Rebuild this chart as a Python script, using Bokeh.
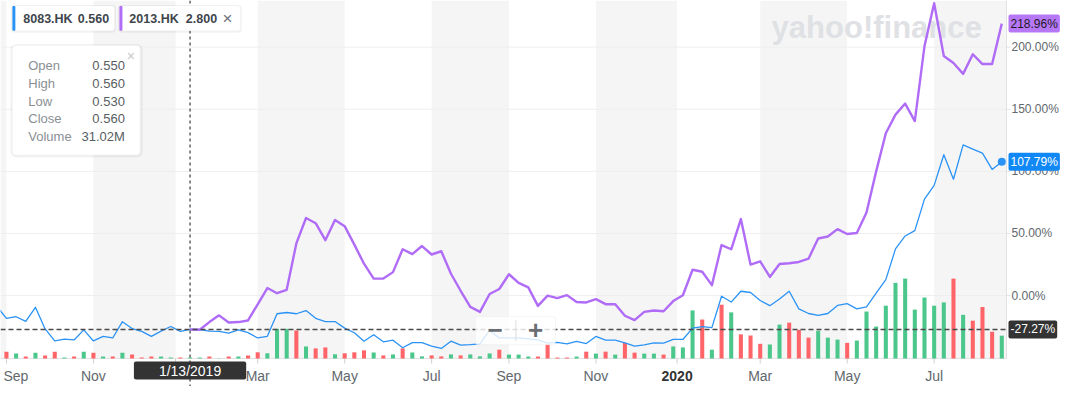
from bokeh.plotting import figure
from bokeh.models import Range1d, BoxAnnotation, Label, Span
from bokeh.core.properties import value
from bokeh.embed import file_html
from bokeh.resources import INLINE

# ---------------- data ----------------
# weekly points, index 0 = first week of Sep 2018
week_idx = list(range(-1, 104))
blue_pct = [  # 8083.HK, % change
    -8.7, -18.3, -17.0, -20.7, -9.4, -26.8, -36.5, -35.1, -35.7, -27.6,
    -36.5, -32.8, -34.1, -21.0, -26.5, -28.8, -32.8, -28.6, -24.9, -28.8,
    -27.27, -27.3, -28.6, -28.8, -30.2, -27.6, -29.8, -34.1, -32.8, -14.6,
    -13.6, -14.6, -12.0, -18.3, -20.9, -20.9, -26.2, -29.9, -36.7, -31.5,
    -37.2, -35.9, -42.0, -37.8, -37.8, -40.6, -42.5, -36.7, -39.8, -39.4,
    -38.8, -27.8, -34.1, -34.1, -34.1, -34.9, -35.7, -38.3, -37.6, -38.8,
    -36.9, -38.6, -32.9, -35.8, -35.8, -38.0, -40.6, -39.6, -38.0, -38.2,
    -35.3, -35.3, -26.2, -25.0, -25.8, -0.5, -5.2, 3.5, 2.5, -3.9,
    -8.1, -2.8, 3.5, -10.7, -14.4, -16.0, -14.4, -7.9, -6.5, -10.7,
    -9.1, 1.9, 12.9, 37.6, 48.0, 52.3, 77.7, 88.7, 113.4, 93.7,
    121.3, 117.9, 114.7, 101.6, 107.79,
]
purple_idx = list(range(19, 104))
purple_pct = [  # 2013.HK, % change
    -27.27, -27.5, -21.3, -15.9, -21.7, -21.3, -20.0, -7.0, 6.1, 1.9,
    4.7, 42.0, 62.5, 58.3, 44.6, 60.9, 55.9, 41.0, 25.7, 13.7,
    13.7, 18.9, 37.3, 33.4, 39.9, 33.1, 35.7, 17.6, 3.9, -9.1,
    -13.1, 1.3, 5.3, 17.2, 10.2, 6.6, -8.3, 0.0, -2.0, 0.4,
    -5.2, -5.5, -2.8, -6.9, -6.9, -16.2, -19.7, -13.1, -12.0, -12.6,
    -4.4, 0.3, 20.8, 19.2, 8.4, 40.7, 37.3, 61.6, 25.0, 27.6,
    15.0, 25.5, 26.0, 27.1, 29.7, 46.0, 47.6, 53.5, 49.6, 50.4,
    66.9, 100.0, 130.7, 145.7, 154.6, 140.5, 200.8, 235.4, 192.9, 187.2,
    178.5, 194.3, 186.4, 186.4, 218.96,
]
vol_idx = list(range(0, 104))
volume_m = [  # 8083.HK weekly volume, millions
    210, 150, 60, 180, 90, 210, 30, 60, 210, 180,
    60, 60, 180, 120, 30, 60, 60, 30, 30, 31.02,
    30, 60, 10, 60, 60, 90, 190, 160, 910, 910,
    860, 370, 310, 340, 130, 160, 190, 250, 185, 95,
    125, 310, 185, 65, 95, 65, 125, 95, 125, 65,
    155, 270, 120, 120, 60, 60, 430, 30, 30, 60,
    210, 150, 210, 120, 480, 180, 150, 150, 120, 370,
    340, 1475, 1195, 270, 1650, 1415, 740, 705, 450, 430,
    1040, 1100, 880, 640, 850, 640, 580, 480, 550, 1440,
    980, 1620, 2320, 2450, 1500, 1870, 1620, 1720, 2450, 1340,
    1160, 1580, 820, 700,
]
volume_dir = list(
    "rgrgrrgrgr" "grgrrrggrg" "grgrgrrggg" "rgrrgrrrgr"
    "grggrrgrgg" "grgggrrrrg" "rgrgrrggrg" "ggrgrgrrrg"
    "grrrgggrgg" "ggggggggrg" "rrrg"
)
tick_pos = [0, 9, 17.5, 26, 35, 44, 52, 61, 69.4, 78, 87, 96]
tick_labels = ["Sep", "Nov", "2019", "Mar", "May", "Jul", "Sep", "Nov", "2020", "Mar", "May", "Jul"]
pct_ticks = [0, 50, 100, 150, 200]
pct_labels = ["0.00%", "50.00%", "100.00%", "150.00%", "200.00%"]
hover_week = 19
hover_date = "1/13/2019"
ohlc_names = ["Open", "High", "Low", "Close", "Volume"]
ohlc_values = ["0.550", "0.560", "0.530", "0.560", "31.02M"]
symbols = ["8083.HK", "2013.HK"]
last_prices = ["0.560", "2.800"]

# ---------------- styling / geometry ----------------
FONT = "Liberation Sans"
BLUE = "#2b93f5"
PURPLE = "#b06cf6"
GREEN = "#4cc78c"
RED = "#ff6469"
AXIS_TXT = "#62686d"
BAND = "#f5f5f5"
LINE_GREY = "#e2e2e2"

W, H = 1064, 386
SX = 1006 / 1015          # slight compression so that the right labels fit
SY = 358 / 366            # and the month labels fit below


def X(rpx):   # reference pixel -> week index
    return (rpx - 6) / 9.75


def Y(rpy):   # reference pixel -> percent
    return (301.7 - rpy) / 1.27


def XF(fpx):  # figure pixel -> week index
    return X(fpx / SX)


def YF(fpy):  # figure pixel -> percent
    return Y(fpy / SY)


PXU = 9.75 * SX   # pixels per week
PYU = 1.27 * SY   # pixels per percent
X_LO, X_HI = XF(0), XF(W)
Y_HI, Y_LO = YF(0), YF(H)
X_PR = X(1015)    # right edge of the plotting area
Y_PB = Y(366)     # bottom of the plotting area
PB_F = 366 * SY
VPP = 30 / SY     # volume (M) per pixel

p = figure(width=W, height=H, output_backend="svg", toolbar_location=None,
           x_range=Range1d(X_LO, X_HI), y_range=Range1d(Y_LO, Y_HI),
           min_border=0, x_axis_type=None, y_axis_type=None)
p.outline_line_color = None
p.background_fill_color = "white"
p.border_fill_color = "white"
p.xgrid.visible = False
p.ygrid.visible = False
p.extra_y_ranges = {"vol": Range1d(-(H - PB_F) * VPP, PB_F * VPP)}

# alternating month bands (the shaded ones)
edges = [X_LO] + tick_pos + [X_PR]
for k in range(0, len(edges) - 1, 2):
    p.add_layout(BoxAnnotation(left=edges[k], right=edges[k + 1], bottom=Y_PB,
                               fill_color=BAND, fill_alpha=1.0, line_color=None,
                               level="underlay"))

# watermark
p.add_layout(Label(x=X(778), y=Y(28), text="yahoo!finance", text_font=FONT,
                   text_font_style="bold", text_font_size="31px", text_color="#dfe1e5",
                   text_baseline="alphabetic", level="underlay"))

# grid lines and axis lines / ticks
p.segment(x0=[X_LO] * len(pct_ticks), y0=pct_ticks, x1=[X_PR] * len(pct_ticks), y1=pct_ticks,
          line_color="#eeeeee", line_width=1)
p.segment(x0=[X_PR], y0=[Y_PB], x1=[X_PR], y1=[Y_HI], line_color=LINE_GREY, line_width=1)
p.segment(x0=[X_LO], y0=[Y_PB], x1=[X_PR], y1=[Y_PB], line_color=LINE_GREY, line_width=1)
p.segment(x0=[X_PR] * len(pct_ticks), y0=pct_ticks,
          x1=[X_PR + 4 / PXU] * len(pct_ticks), y1=pct_ticks, line_color=LINE_GREY, line_width=1)
p.segment(x0=tick_pos, y0=[Y_PB] * len(tick_pos), x1=tick_pos,
          y1=[Y_PB - 5 / PYU] * len(tick_pos), line_color="#d0d0d0", line_width=1)

# right-hand percent labels
p.text(x=[XF(1011)] * len(pct_ticks), y=pct_ticks, text=pct_labels,
       text_font=value(FONT), text_font_size="12px", text_color=AXIS_TXT,
       text_align="left", text_baseline="middle")

# month labels
base_y = YF(375)
reg = [(pos, lab) for k, (pos, lab) in enumerate(zip(tick_pos, tick_labels))
       if k > 0 and not lab.isdigit()]
p.text(x=[a for a, _ in reg], y=[base_y] * len(reg), text=[b for _, b in reg],
       text_font=value(FONT), text_font_size="14px", text_color=AXIS_TXT,
       text_align="center", text_baseline="alphabetic")
p.text(x=[XF(3)], y=[base_y], text=[tick_labels[0]], text_font=value(FONT),
       text_font_size="14px", text_color=AXIS_TXT, text_align="left",
       text_baseline="alphabetic")
yr = [(pos, lab) for pos, lab in zip(tick_pos, tick_labels) if lab == "2020"]
p.text(x=[a for a, _ in yr], y=[base_y] * len(yr), text=[b for _, b in yr],
       text_font=value(FONT), text_font_size="14px", text_font_style="bold",
       text_color="#333333", text_align="center", text_baseline="alphabetic")

# volume bars
p.vbar(x=vol_idx, top=volume_m, bottom=0, width=0.42, y_range_name="vol",
       color=[GREEN if d == "g" else RED for d in volume_dir], line_color=None)

# lines
p.line(week_idx, blue_pct, color=BLUE, line_width=1.3, line_join="round")
p.line(purple_idx, purple_pct, color=PURPLE, line_width=2.4, line_join="round")
p.scatter([week_idx[-1]], [blue_pct[-1]], size=8, color=BLUE, line_color=None)

# crosshair
hover_val = blue_pct[week_idx.index(hover_week)]
p.segment(x0=[X_LO], y0=[hover_val], x1=[X_PR], y1=[hover_val], line_color="#4a4a4a",
          line_dash="5 3", line_width=1.6)
p.add_layout(Span(location=hover_week, dimension="height", line_color="#3a3a3a",
                  line_dash="3 3", line_width=1.2))

# zoom control
p.add_layout(BoxAnnotation(left=X(479), right=X(560), top=Y(323), bottom=Y(352),
                           fill_color="white", fill_alpha=0.8, line_color="#e0e0e0",
                           line_width=1, border_radius=3))
p.add_layout(BoxAnnotation(left=X(519.5), right=X(520.5), top=Y(327), bottom=Y(348),
                           fill_color="#dddddd", fill_alpha=1, line_color=None))
for cx, sym in [(499, "\u2212"), (540, "+")]:
    p.add_layout(Label(x=X(cx), y=Y(337), text=sym, text_font=FONT, text_font_style="bold",
                       text_font_size="26px", text_color="#6a6e72",
                       text_align="center", text_baseline="middle"))


# value badges on the right
def badge(yv, bg, fg):
    p.add_layout(Label(x=XF(1008), y=yv, text=f"{yv:.2f}%", text_font=FONT,
                       text_font_size="12px", text_color=fg, text_align="left",
                       text_baseline="middle", background_fill_color=bg,
                       background_fill_alpha=1.0, padding=2, border_radius=2))


badge(purple_pct[-1], "#b678f7", "#1f1a26")
badge(blue_pct[-1], "#1088f5", "white")
badge(hover_val, "#333333", "white")

# date badge under the crosshair
p.add_layout(Label(x=hover_week, y=YF(370), text=hover_date, text_font=FONT,
                   text_font_size="14px", text_color="white", text_align="center",
                   text_baseline="middle", background_fill_color="#333333",
                   background_fill_alpha=1.0, padding=dict(left=25, right=25, top=1, bottom=1),
                   border_radius=2))

# OHLC tooltip box
p.add_layout(BoxAnnotation(left=X(10), right=X(143.5), top=Y(44.5), bottom=Y(160.5),
                           fill_color="black", fill_alpha=0.05, line_color=None, border_radius=6))
p.add_layout(BoxAnnotation(left=X(12), right=X(141), top=Y(46), bottom=Y(158),
                           fill_color="white", fill_alpha=1, line_color="#ececec",
                           line_width=1, border_radius=4))
for k, (nm, vl) in enumerate(zip(ohlc_names, ohlc_values)):
    yy = Y(66.3 + 18.25 * k)
    p.add_layout(Label(x=X(28), y=yy, text=nm, text_font=FONT, text_font_size="13px",
                       text_color="#8a8f94", text_align="left", text_baseline="middle"))
    p.add_layout(Label(x=X(125.5), y=yy, text=vl, text_font=FONT, text_font_size="13px",
                       text_color="#585d62", text_align="right", text_baseline="middle"))
p.add_layout(Label(x=X(131.5), y=Y(57), text="\u00d7", text_font=FONT, text_font_size="14px",
                   text_color="#c4c7ca", text_align="center", text_baseline="middle"))

# symbol chips
chips = [(12, 115, BLUE, 23, 78, None), (120, 242, PURPLE, 130, 187, 229)]
for (l, r, col, tx, vx, cx), sym, pr in zip(chips, symbols, last_prices):
    p.add_layout(BoxAnnotation(left=X(l - 1.5), right=X(r + 1.5), top=Y(4.5), bottom=Y(33),
                               fill_color="black", fill_alpha=0.05, line_color=None, border_radius=4))
    p.add_layout(BoxAnnotation(left=X(l), right=X(r), top=Y(5.5), bottom=Y(31),
                               fill_color="white", fill_alpha=1, line_color="#eeeeee",
                               border_radius=3))
    p.add_layout(BoxAnnotation(left=X(l), right=X(l + 3), top=Y(5.5), bottom=Y(31),
                               fill_color=col, fill_alpha=1, line_color=None, border_radius=1))
    p.add_layout(Label(x=X(tx), y=Y(18.5), text=sym, text_font=FONT, text_font_style="bold",
                       text_font_size="12.5px", text_color="#40464c", text_align="left",
                       text_baseline="middle"))
    p.add_layout(Label(x=X(vx), y=Y(18.5), text=pr, text_font=FONT, text_font_style="bold",
                       text_font_size="12.5px", text_color="#40464c", text_align="left",
                       text_baseline="middle"))
    if cx is not None:
        p.add_layout(Label(x=X(cx), y=Y(18.5), text="\u00d7", text_font=FONT,
                           text_font_size="17px", text_color="#6d7278", text_align="center",
                           text_baseline="middle"))

open("out.html", "w").write(file_html(p, INLINE))
